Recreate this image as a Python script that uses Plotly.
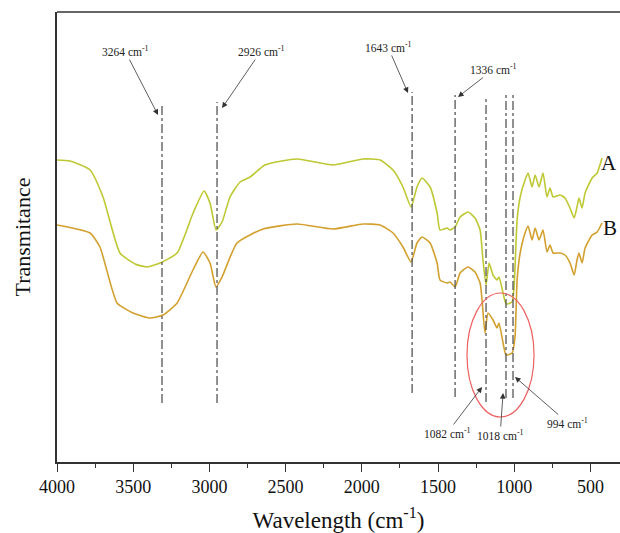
import plotly.graph_objects as go

# ---- data (transmittance in arbitrary units) ----
wn_A = [4000, 3915, 3783, 3698, 3587, 3488, 3409, 3324, 3212, 3107, 3035, 2996, 2956, 2917, 2865, 2799, 2734, 2635,
        2425, 2189, 1992, 1880, 1795, 1730, 1677, 1638, 1605, 1552, 1506, 1487, 1441, 1421, 1388, 1355, 1303, 1257,
        1224, 1205, 1185, 1165, 1139, 1113, 1100, 1073, 1054, 1014, 1001, 981, 961, 929, 909, 883, 863, 837, 811,
        785, 765, 745, 699, 667, 634, 607, 588, 575, 555, 535, 489, 456, 424]
T_A = [302, 301, 292, 265, 209, 198, 195, 199, 209, 249, 271, 259, 232, 240, 265, 280, 285, 297,
       303, 297, 303, 302, 292, 275, 255, 275, 284, 275, 249, 232, 234, 232, 235, 245, 250, 244,
       232, 202, 177, 199, 187, 182, 185, 169, 158, 160, 175, 242, 265, 282, 289, 275, 287, 275, 289,
       265, 274, 265, 267, 264, 254, 244, 255, 264, 254, 269, 284, 289, 304]

wn_B = [4000, 3783, 3718, 3606, 3501, 3390, 3304, 3212, 3108, 3042, 2996, 2957, 2917, 2819, 2648, 2425, 2189, 1992,
        1880, 1795, 1730, 1677, 1638, 1605, 1552, 1506, 1487, 1441, 1421, 1388, 1355, 1303, 1257, 1224, 1211, 1192,
        1172, 1139, 1113, 1100, 1073, 1054, 1014, 995, 981, 961, 929, 909, 883, 863, 837, 811, 785, 765, 745, 699,
        667, 634, 607, 588, 575, 555, 535, 489, 456, 424]
T_B = [237, 229, 215, 159, 149, 144, 147, 159, 192, 210, 199, 175, 185, 219, 233, 238, 233, 238,
       237, 229, 215, 200, 219, 225, 219, 199, 182, 179, 180, 175, 189, 195, 190, 179, 162, 129,
       149, 142, 134, 139, 119, 107, 109, 125, 182, 209, 229, 236, 222, 234, 222, 232, 210, 217, 209, 209,
       207, 199, 187, 202, 209, 199, 214, 227, 230, 239]

# marked bands: line position, line top, line bottom
band_x = [3311, 2950, 1670, 1388, 1185, 1054, 1008]
band_top = [359, 360, 370, 367, 364, 367, 367]
band_bot = [59, 59, 69, 65, 60, 64, 64]

# labels: text, arrow tip (x, y), label offset in px
lab_text = ["3264 cm<sup>-1</sup>", "2926 cm<sup>-1</sup>", "1643 cm<sup>-1</sup>", "1336 cm<sup>-1</sup>",
            "1082 cm<sup>-1</sup>", "1018 cm<sup>-1</sup>", "994 cm<sup>-1</sup>"]
lab_tip_x = [3337, 2917, 1697, 1369, 1211, 1073, 995]
lab_tip_y = [347, 354, 369, 365, 75, 69, 85]
lab_ax = [-33, 39, -20, 36, -35, -3, 53]
lab_ay = [-64, -57, -46, -28, 46, 42, 46]

FONT = "Liberation Serif"
colA = "#bec832"
colB = "#d3a02e"

fig = go.Figure()
fig.add_trace(go.Scatter(x=wn_A, y=T_A, mode="lines", name="A",
                         line=dict(color=colA, width=1.6, shape="spline", smoothing=0.5)))
fig.add_trace(go.Scatter(x=wn_B, y=T_B, mode="lines", name="B",
                         line=dict(color=colB, width=1.6, shape="spline", smoothing=0.5)))

shapes = []
for x, t, b in zip(band_x, band_top, band_bot):
    shapes.append(dict(type="line", xref="x", yref="y", x0=x, x1=x, y0=b, y1=t,
                       line=dict(color="#555555", width=1.3, dash="dashdot")))
shapes.append(dict(type="circle", xref="x", yref="y", x0=1310, x1=870, y0=45, y1=169,
                   line=dict(color="#ee5f5f", width=1.2)))
shapes.append(dict(type="line", xref="paper", yref="paper", x0=0, x1=1, y0=1, y1=1,
                   line=dict(color="#333333", width=1.5)))

annotations = []
for txt, x, y, ax, ay in zip(lab_text, lab_tip_x, lab_tip_y, lab_ax, lab_ay):
    annotations.append(dict(x=x, y=y, xref="x", yref="y", text=txt, showarrow=True,
                            ax=ax, ay=ay, arrowhead=2, arrowsize=1.4, arrowwidth=0.8,
                            arrowcolor="#333333", font=dict(family=FONT, size=11.5, color="#222222")))
annotations.append(dict(x=0.999, y=299, xref="paper", yref="y", text="A", showarrow=False, xanchor="right",
                        font=dict(family=FONT, size=21, color="#111111")))
annotations.append(dict(x=0.999, y=234, xref="paper", yref="y", text="B", showarrow=False, xanchor="right",
                        font=dict(family=FONT, size=21, color="#111111")))
annotations.append(dict(x=-0.063, y=0.5, xref="paper", yref="paper", text="Transmitance", textangle=-90,
                        showarrow=False, xanchor="center", yanchor="middle",
                        font=dict(family=FONT, size=22, color="#111111")))

fig.update_layout(
    width=620, height=533,
    margin=dict(l=57, r=0, t=12, b=71, autoexpand=False),
    plot_bgcolor="white", paper_bgcolor="white",
    font=dict(family=FONT, color="#111111"),
    showlegend=False,
    shapes=shapes, annotations=annotations,
    xaxis=dict(range=[4000, 306], tickvals=[4000, 3500, 3000, 2500, 2000, 1500, 1000, 500],
               ticks="outside", ticklen=8, tickwidth=1.3, tickcolor="#333333",
               minor=dict(dtick=250, ticks="outside", ticklen=4, tickwidth=1.3, tickcolor="#333333",
                          showgrid=False),
               showline=True, linecolor="#333333", linewidth=1.5, showgrid=False, zeroline=False,
               tickfont=dict(family=FONT, size=18, color="#111111"),
               title=dict(text="Wavelength (cm<sup>-1</sup>)", standoff=16,
                          font=dict(family=FONT, size=23, color="#111111"))),
    yaxis=dict(range=[0, 450], showticklabels=False, ticks="", showline=True, linecolor="#333333",
               linewidth=1.5, showgrid=False, zeroline=False),
)

fig.write_html("out.html", config={"displayModeBar": False},
               post_script="document.body.style.margin='0';document.body.style.overflow='hidden';")
